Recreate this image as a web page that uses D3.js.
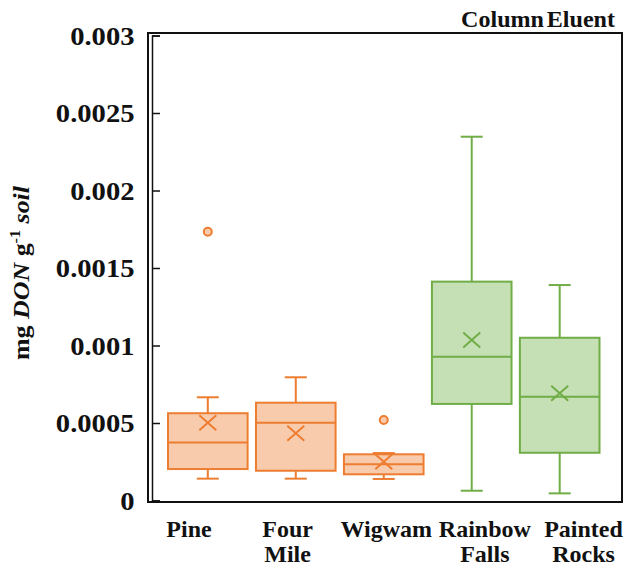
<!DOCTYPE html>
<html>
<head>
<meta charset="utf-8">
<script src="https://cdn.jsdelivr.net/npm/d3@7/dist/d3.min.js"></script>
<style>
  html, body { margin: 0; padding: 0; background: #fff; }
  svg { display: block; }
  text { font-family: "Liberation Serif", "Times New Roman", serif; font-weight: bold; fill: #111; }
</style>
</head>
<body>
<svg id="chart" width="624" height="571"></svg>
<script>
// Sites, split into the two soil groups
const categories = ["Pine", "Four Mile", "Wigwam", "Rainbow Falls", "Painted Rocks"];
const labelLines = [["Pine"], ["Four", "Mile"], ["Wigwam"], ["Rainbow", "Falls"], ["Painted", "Rocks"]];
const groups = ["orange", "orange", "orange", "green", "green"];

// Five-number summaries (mg DON g-1 soil)
const whiskerLow  = [0.000141, 0.000141, 0.000139, 0.000063, 0.000046];
const q1          = [0.000203, 0.000192, 0.000169, 0.000623, 0.000308];
const medians     = [0.000375, 0.000502, 0.000234, 0.000928, 0.000670];
const q3          = [0.000563, 0.000631, 0.000298, 0.001412, 0.001050];
const whiskerHigh = [0.000666, 0.000795, 0.000306, 0.002347, 0.001390];
const means       = [0.000502, 0.000434, 0.000250, 0.001035, 0.000692];
const outliers    = [[0.001734], [], [0.000519], [], []];

const yTicks = [0, 0.0005, 0.001, 0.0015, 0.002, 0.0025, 0.003];
const yTickLabels = ["0", "0.0005", "0.001", "0.0015", "0.002", "0.0025", "0.003"];

const palette = {
  orange: { stroke: "#ED7D31", fill: "#F8CBAD" },
  green:  { stroke: "#70AD47", fill: "#C5E0B4" }
};

const svg = d3.select("#chart");
const frame = { left: 148, right: 622, top: 33, bottom: 502 };
const axisX = 152;

const y = d3.scaleLinear().domain([0, 0.003]).range([500.5, 35.5]);
const x = d3.scaleBand().domain(categories).range([168, 599.5]).paddingInner(0.095).paddingOuter(0);
const xLabel = d3.scalePoint().domain(categories).range([189, 583.5]);

const rows = categories.map((c, i) => ({
  cat: c, group: groups[i], lo: whiskerLow[i], q1: q1[i], med: medians[i],
  q3: q3[i], hi: whiskerHigh[i], mean: means[i], out: outliers[i], lines: labelLines[i]
}));

// Boxes
const capHalf = 11;
const g = svg.append("g");
const box = g.selectAll("g.box").data(rows).join("g").attr("class", "box");
box.each(function(d) {
  const s = d3.select(this);
  const col = palette[d.group];
  const cx = x(d.cat) + x.bandwidth() / 2;
  const x0 = x(d.cat), w = x.bandwidth();
  // whiskers
  s.append("line").attr("x1", cx).attr("x2", cx).attr("y1", y(d.q3)).attr("y2", y(d.hi))
    .attr("stroke", col.stroke).attr("stroke-width", 2);
  s.append("line").attr("x1", cx).attr("x2", cx).attr("y1", y(d.q1)).attr("y2", y(d.lo))
    .attr("stroke", col.stroke).attr("stroke-width", 2);
  [d.hi, d.lo].forEach(v => {
    s.append("line").attr("x1", cx - capHalf).attr("x2", cx + capHalf).attr("y1", y(v)).attr("y2", y(v))
      .attr("stroke", col.stroke).attr("stroke-width", 2);
  });
  // box
  s.append("rect").attr("x", x0).attr("y", y(d.q3)).attr("width", w).attr("height", y(d.q1) - y(d.q3))
    .attr("fill", col.fill).attr("stroke", col.stroke).attr("stroke-width", 2);
  // median
  s.append("line").attr("x1", x0).attr("x2", x0 + w).attr("y1", y(d.med)).attr("y2", y(d.med))
    .attr("stroke", col.stroke).attr("stroke-width", 2);
  // mean marker
  const my = y(d.mean), mx = 8.5, myy = 7.5;
  s.append("path")
    .attr("d", `M${cx - mx},${my - myy}L${cx + mx},${my + myy}M${cx - mx},${my + myy}L${cx + mx},${my - myy}`)
    .attr("stroke", col.stroke).attr("stroke-width", 2).attr("fill", "none");
  // outliers
  s.selectAll("circle").data(d.out).join("circle")
    .attr("cx", cx).attr("cy", v => y(v)).attr("r", 4)
    .attr("fill", col.fill).attr("stroke", col.stroke).attr("stroke-width", 2);
});

// Frame
svg.append("rect").attr("x", frame.left).attr("y", frame.top)
  .attr("width", frame.right - frame.left).attr("height", frame.bottom - frame.top)
  .attr("fill", "none").attr("stroke", "#111").attr("stroke-width", 2);

// Y axis, ticks pointing inward
const yAxis = d3.axisRight(y).tickValues(yTicks).tickSize(8).tickFormat("");
const ya = svg.append("g").attr("transform", `translate(${axisX},0)`).call(yAxis);
ya.select(".domain").attr("stroke", "#111").attr("stroke-width", 1.5);
ya.selectAll(".tick line").attr("stroke", "#111").attr("stroke-width", 1.5);

// Tick labels, set slightly wide
svg.append("g").selectAll("text").data(yTicks).join("text")
  .attr("transform", v => `translate(134.5,${y(v)}) scale(1.1,1)`)
  .attr("dy", "0.35em")
  .attr("text-anchor", "end").attr("font-size", 26)
  .text((v, i) => yTickLabels[i]);

// Category labels
const cl = svg.append("g").selectAll("text").data(rows).join("text")
  .attr("x", d => xLabel(d.cat)).attr("y", 537)
  .attr("text-anchor", "middle").attr("font-size", 24);
cl.each(function(d) {
  const t = d3.select(this);
  d.lines.forEach((ln, k) => {
    t.append("tspan").attr("x", xLabel(d.cat)).attr("dy", k === 0 ? 0 : 25).text(ln);
  });
});

// Y axis title
const yt = svg.append("text").attr("transform", "translate(29,273) rotate(-90) scale(1.08,1)")
  .attr("text-anchor", "middle").attr("font-size", 24);
yt.append("tspan").text("mg ");
yt.append("tspan").attr("font-style", "italic").text("DON");
yt.append("tspan").text(" g");
yt.append("tspan").attr("font-size", 15).attr("dy", -9).text("-1");
yt.append("tspan").attr("dy", 9).text(" ");
yt.append("tspan").attr("font-style", "italic").text("soil");

// Panel title
svg.append("text").attr("transform", "translate(615,27) scale(1.07,1)").attr("text-anchor", "end")
  .attr("font-size", 22.5).attr("word-spacing", -3).text("Column Eluent");
</script>
</body>
</html>
